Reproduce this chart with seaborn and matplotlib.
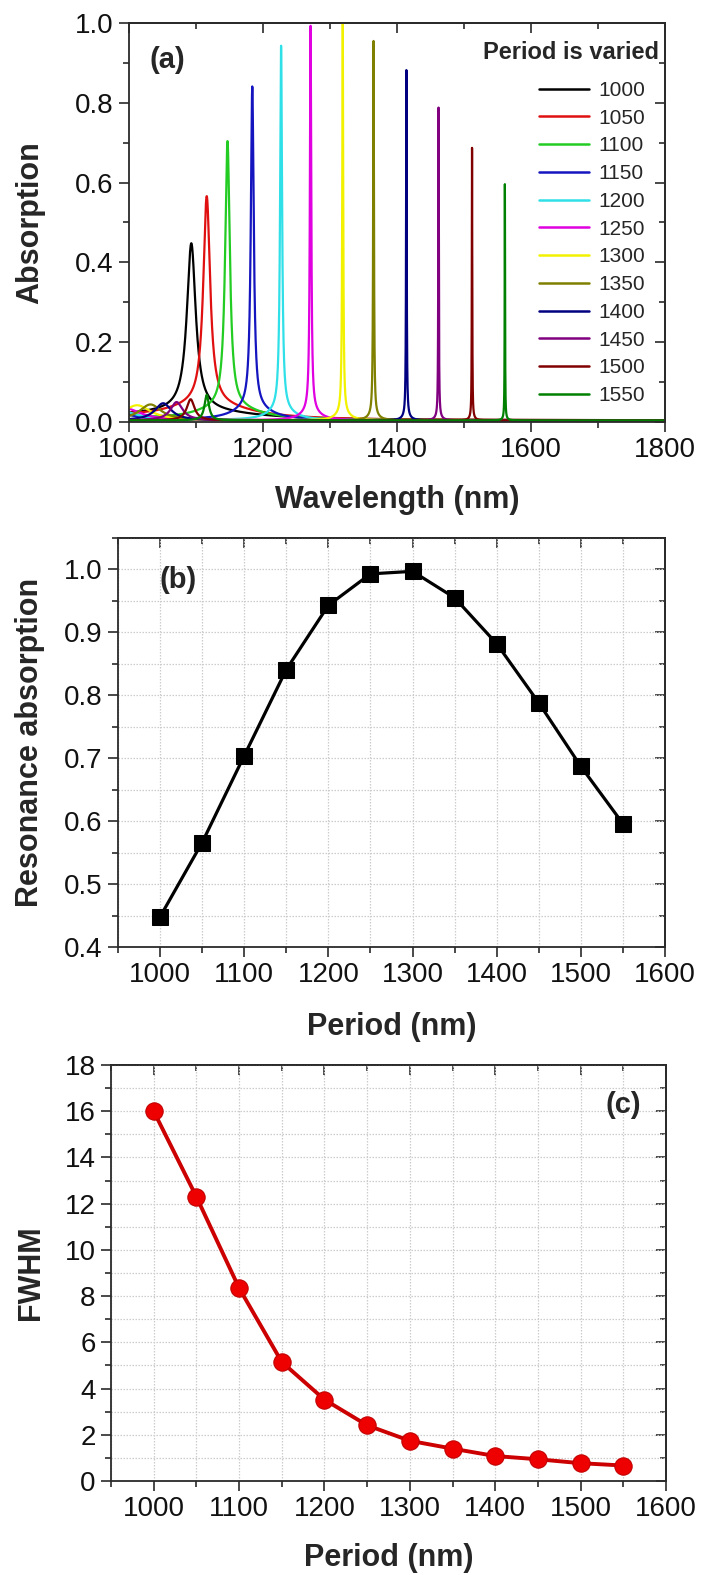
import numpy as np
import pandas as pd
import matplotlib
matplotlib.use("Agg")
import matplotlib.pyplot as plt
import seaborn as sns
from matplotlib.ticker import MultipleLocator, FormatStrFormatter

# ---------------------------------------------------------------- data
periods = [1000, 1050, 1100, 1150, 1200, 1250, 1300, 1350, 1400, 1450, 1500, 1550]

# resonance position, peak absorption and linewidth for each grating period
peak_nm = [1093, 1116, 1147, 1184, 1227, 1271, 1319, 1365, 1414, 1462, 1512, 1561]
resonance_abs = [0.448, 0.566, 0.704, 0.841, 0.943, 0.993, 0.997, 0.955, 0.882, 0.788, 0.687, 0.596]
fwhm_nm = [16.0, 12.3, 8.35, 5.15, 3.52, 2.41, 1.74, 1.40, 1.08, 0.94, 0.77, 0.67]

# broad wings around each resonance
tail_abs = [0.025, 0.040, 0.035, 0.035, 0.030, 0.025, 0.020, 0.015, 0.012, 0.010, 0.008, 0.006]
tail_width_nm = [200, 150, 100, 60, 40, 30, 22, 16, 12, 10, 8, 6]

# weak short-wavelength side band of each spectrum
bump_nm = [950, 960, 970, 975, 985, 995, 1012, 1032, 1051, 1071, 1092, 1116]
bump_abs = [0.015, 0.018, 0.020, 0.022, 0.025, 0.030, 0.038, 0.040, 0.043, 0.046, 0.053, 0.064]
bump_width_nm = [60, 60, 60, 60, 60, 55, 50, 40, 30, 22, 14, 8]
baseline_abs = 0.004

series_colors = ['#000000', '#e01010', '#22cc22', '#1515c0', '#30e0e8', '#e000e0',
                 '#f2f200', '#808000', '#000080', '#800080', '#800000', '#008000']

wl = np.arange(1000.0, 1800.0001, 0.05)


def lorentz(x, x0, w):
    return 1.0 / (1.0 + ((x - x0) / (w / 2.0)) ** 2)


frames = []
for i, p in enumerate(periods):
    wings = tail_abs[i] * lorentz(wl, peak_nm[i], tail_width_nm[i])
    side = bump_abs[i] * lorentz(wl, bump_nm[i], bump_width_nm[i])
    at_peak = (tail_abs[i] + bump_abs[i] * lorentz(peak_nm[i], bump_nm[i], bump_width_nm[i])
               + baseline_abs)
    main = (resonance_abs[i] - at_peak) * lorentz(wl, peak_nm[i], fwhm_nm[i])
    frames.append(pd.DataFrame({"Wavelength": wl,
                                "Absorption": main + wings + side + baseline_abs,
                                "Period": str(p)}))
spectra = pd.concat(frames, ignore_index=True)
palette = {str(p): c for p, c in zip(periods, series_colors)}

summary = pd.DataFrame({"Period": periods, "Resonance": resonance_abs, "FWHM": fwhm_nm})

# ---------------------------------------------------------------- style
sns.set_theme(style="white")
plt.rcParams['font.family'] = ['Liberation Sans', 'DejaVu Sans']
plt.rcParams['axes.linewidth'] = 1.3
plt.rcParams['axes.edgecolor'] = '#2a2a2a'

TICK_FS = 20
LABEL_FS = 22
W, H = 702, 1575
fig = plt.figure(figsize=(W / 100, H / 100), dpi=100)


def add_axes(left, top, right, bottom):
    return fig.add_axes([left / W, 1 - bottom / H, (right - left) / W, (bottom - top) / H])


def style_axes(ax, xmaj, xmin, ymaj, ymin, yfmt):
    ax.xaxis.set_major_locator(MultipleLocator(xmaj))
    ax.xaxis.set_minor_locator(MultipleLocator(xmin))
    ax.yaxis.set_major_locator(MultipleLocator(ymaj))
    ax.yaxis.set_minor_locator(MultipleLocator(ymin))
    ax.yaxis.set_major_formatter(FormatStrFormatter(yfmt))
    ax.tick_params(which='both', direction='out', bottom=True, left=True, top=False, right=False,
                   width=1.2, color='#2a2a2a', labelsize=TICK_FS, labelcolor='#111111', pad=4)
    ax.tick_params(which='major', length=7)
    ax.tick_params(which='minor', length=4)
    # inward ticks on the top and right edges
    top = ax.secondary_xaxis('top')
    top.xaxis.set_major_locator(MultipleLocator(xmaj))
    top.xaxis.set_minor_locator(MultipleLocator(xmin))
    top.tick_params(which='both', direction='in', labeltop=False, width=1.2, color='#2a2a2a')
    top.tick_params(which='major', length=7)
    top.tick_params(which='minor', length=4)
    right = ax.secondary_yaxis('right')
    right.yaxis.set_major_locator(MultipleLocator(ymaj))
    right.yaxis.set_minor_locator(MultipleLocator(ymin))
    right.tick_params(which='both', direction='in', labelright=False, width=1.2, color='#2a2a2a')
    right.tick_params(which='major', length=7)
    right.tick_params(which='minor', length=4)
    for sp in ax.spines.values():
        sp.set_visible(True)
        sp.set_color('#2a2a2a')
        sp.set_linewidth(1.3)


def set_labels(ax, xlabel, ylabel, xpos, ypos):
    ax.set_xlabel(xlabel, fontsize=LABEL_FS, fontweight='bold', va='center')
    ax.set_ylabel(ylabel, fontsize=LABEL_FS, fontweight='bold', va='center')
    ax.xaxis.set_label_coords(0.5, xpos)
    ax.yaxis.set_label_coords(ypos, 0.5)


# ---------------------------------------------------------------- (a) spectra
ax_a = add_axes(129, 23, 665, 422)
sns.lineplot(data=spectra, x="Wavelength", y="Absorption", hue="Period", palette=palette,
             hue_order=[str(p) for p in periods], estimator=None, errorbar=None, sort=False,
             linewidth=1.6, ax=ax_a)
ax_a.set_xlim(1000, 1800)
ax_a.set_ylim(0, 1.0)
style_axes(ax_a, 200, 100, 0.2, 0.1, '%.1f')
set_labels(ax_a, "Wavelength (nm)", "Absorption", (422 - 500) / 399, (30 - 129) / 536)
handles, labels = ax_a.get_legend_handles_labels()
ax_a.legend(handles, labels, loc='upper right', bbox_to_anchor=((645 - 129) / 536, (422 - 81) / 399),
            frameon=False, fontsize=15, borderpad=0, borderaxespad=0, labelspacing=0.42,
            handlelength=2.4, handletextpad=0.45)
for line in ax_a.get_legend().get_lines():
    line.set_linewidth(1.8)
ax_a.text((659 - 129) / 536, (422 - 53) / 399, "Period is varied", transform=ax_a.transAxes,
          ha='right', va='center', fontsize=17, fontweight='bold')
ax_a.text((167 - 129) / 536, (422 - 60) / 399, "(a)", transform=ax_a.transAxes,
          ha='center', va='center', fontsize=21, fontweight='bold')

grid_kw = dict(color='#cccccc', linestyle=(0, (1.2, 1.2)), linewidth=0.9)

# ---------------------------------------------------------------- (b) resonance absorption
ax_b = add_axes(118, 538, 665, 947)
ax_b.set_axisbelow(True)
ax_b.grid(True, which='both', **grid_kw)
sns.lineplot(data=summary, x="Period", y="Resonance", color='black', linewidth=2.3,
             marker='s', markersize=11, markeredgecolor='black', markerfacecolor='black', ax=ax_b)
ax_b.set_xlim(950, 1600)
ax_b.set_ylim(0.4, 1.05)
style_axes(ax_b, 100, 50, 0.1, 0.05, '%.1f')
set_labels(ax_b, "Period (nm)", "Resonance absorption", (947 - 1027) / 409, (30 - 118) / 547)
ax_b.text((178 - 118) / 547, (947 - 580) / 409, "(b)", transform=ax_b.transAxes,
          ha='center', va='center', fontsize=21, fontweight='bold')

# ---------------------------------------------------------------- (c) linewidth
ax_c = add_axes(111, 1065, 666, 1481)
ax_c.set_axisbelow(True)
ax_c.grid(True, which='both', **grid_kw)
sns.lineplot(data=summary, x="Period", y="FWHM", color='#cc0000', linewidth=2.8,
             marker='o', markersize=12.5, markeredgecolor='#c00000', markerfacecolor='#ee0000',
             ax=ax_c)
ax_c.set_xlim(950, 1600)
ax_c.set_ylim(0, 18)
style_axes(ax_c, 100, 50, 2, 1, '%d')
set_labels(ax_c, "Period (nm)", "FWHM", (1481 - 1558) / 416, (31 - 111) / 555)
ax_c.text((623 - 111) / 555, (1481 - 1105) / 416, "(c)", transform=ax_c.transAxes,
          ha='center', va='center', fontsize=21, fontweight='bold')

fig.savefig("out.png", dpi=100, facecolor='white')
